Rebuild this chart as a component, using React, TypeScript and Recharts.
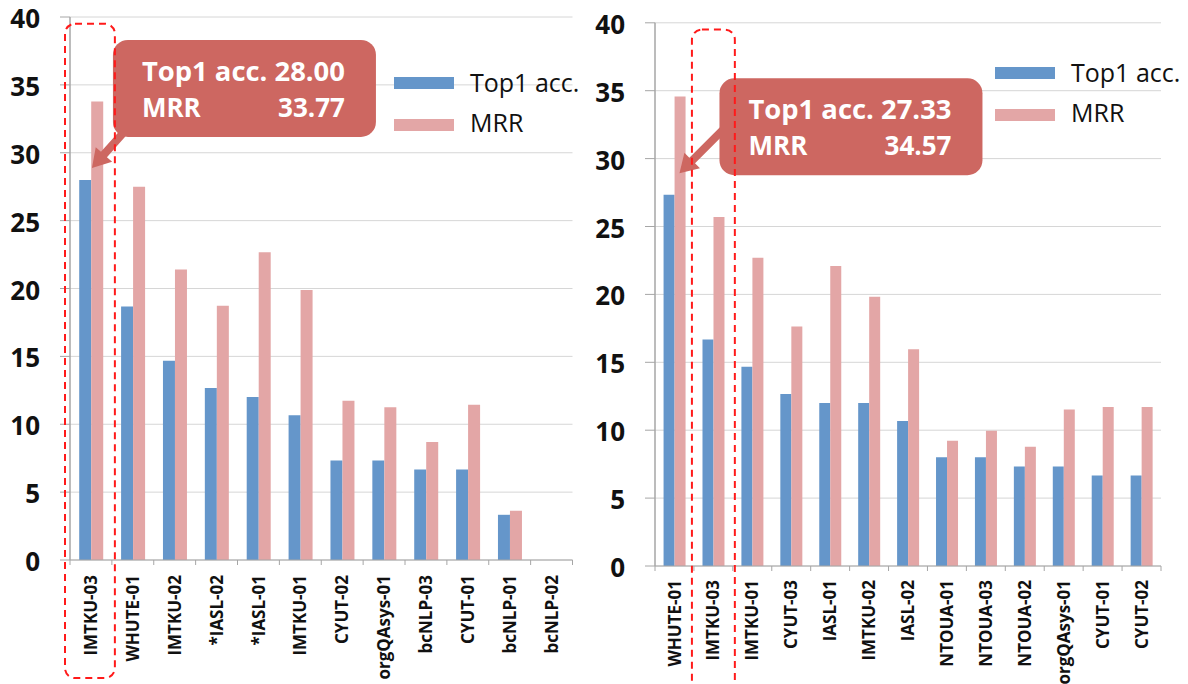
import React from 'react';
import { BarChart, Bar, XAxis, YAxis, CartesianGrid, Legend, ReferenceArea, ReferenceDot } from 'recharts';

// ---- data ----
const leftCategories = ['IMTKU-03', 'WHUTE-01', 'IMTKU-02', '*IASL-02', '*IASL-01', 'IMTKU-01', 'CYUT-02', 'orgQAsys-01', 'bcNLP-03', 'CYUT-01', 'bcNLP-01', 'bcNLP-02'];
const leftTop1 = [28.0, 18.67, 14.67, 12.67, 12.0, 10.67, 7.33, 7.33, 6.67, 6.67, 3.33, 0];
const leftMRR = [33.77, 27.5, 21.4, 18.73, 22.67, 19.89, 11.74, 11.25, 8.69, 11.44, 3.63, 0];

const rightCategories = ['WHUTE-01', 'IMTKU-03', 'IMTKU-01', 'CYUT-03', 'IASL-01', 'IMTKU-02', 'IASL-02', 'NTOUA-01', 'NTOUA-03', 'NTOUA-02', 'orgQAsys-01', 'CYUT-01', 'CYUT-02'];
const rightTop1 = [27.33, 16.67, 14.67, 12.67, 12.0, 12.0, 10.67, 8.0, 8.0, 7.33, 7.33, 6.67, 6.67];
const rightMRR = [34.57, 25.7, 22.69, 17.64, 22.1, 19.82, 15.97, 9.22, 9.96, 8.78, 11.53, 11.7, 11.7];

const yTicks = [0, 5, 10, 15, 20, 25, 30, 35, 40];
const seriesNames = ['Top1 acc.', 'MRR'];

// ---- styles ----
const BLUE = '#6596CA';
const PINK = '#E3A6A6';
const CALLOUT = '#CD6761';
const DASH = '#FF1A1A';
const AXIS = '#A6A6A6';
const GRID = '#D6D6D6';
const FONT = "'Open Sans', 'DejaVu Sans', sans-serif";

const build = (cats: string[], a: number[], b: number[]) =>
  cats.map((c, i) => ({ name: c, top1: a[i], mrr: b[i] }));

const XTick = (props: any) => {
  const { x, y, payload, index, count, gap } = props;
  const off = payload && payload.offset ? payload.offset : 0;
  return (
    <g>
      <line x1={x - off} x2={x - off} y1={y} y2={y + 5} stroke={AXIS} strokeWidth={1} />
      {index === count - 1 ? (
        <line x1={x + off} x2={x + off} y1={y} y2={y + 5} stroke={AXIS} strokeWidth={1} />
      ) : null}
      <text
        x={x}
        y={y + gap}
        dy="0.36em"
        transform={`rotate(-90 ${x} ${y + gap})`}
        textAnchor="end"
        fontFamily={FONT}
        fontWeight={700}
        fontSize={17}
        fill="#111"
      >
        {payload.value}
      </text>
    </g>
  );
};

const YTick = (props: any) => {
  const { x, y, payload } = props;
  return (
    <text x={x} y={y} dy={11} textAnchor="end" fontFamily={FONT} fontWeight={700} fontSize={26} fill="#111">
      {payload.value}
    </text>
  );
};

const LegendContent = () => (
  <svg width={200} height={80} style={{ overflow: 'visible', display: 'block' }}>
    <rect x={0} y={7} width={60} height={12} fill={BLUE} />
    <text x={76} y={22} fontFamily={FONT} fontSize={25} fill="#111">{seriesNames[0]}</text>
    <rect x={0} y={49} width={60} height={12} fill={PINK} />
    <text x={76} y={62} fontFamily={FONT} fontSize={25} fill="#111">{seriesNames[1]}</text>
  </svg>
);

const arrowPoly = (sx: number, sy: number, tx: number, ty: number) => {
  const dx = tx - sx;
  const dy = ty - sy;
  const len = Math.sqrt(dx * dx + dy * dy);
  const ux = dx / len;
  const uy = dy / len;
  const nx = -uy;
  const ny = ux;
  const w = 4;
  const hw = 11;
  const hl = 18;
  const hx = tx - ux * hl;
  const hy = ty - uy * hl;
  const pts = [
    [sx + nx * w, sy + ny * w],
    [hx + nx * w, hy + ny * w],
    [hx + nx * hw, hy + ny * hw],
    [tx, ty],
    [hx - nx * hw, hy - ny * hw],
    [hx - nx * w, hy - ny * w],
    [sx - nx * w, sy - ny * w],
  ];
  return pts.map((p) => p.join(',')).join(' ');
};

const Callout = (props: any) => {
  const { cx, cy, tip, box, start, v1, v2 } = props;
  if (cx == null || cy == null) return null;
  const tx = cx + tip[0];
  const ty = cy + tip[1];
  const bx = tx + box[0];
  const by = ty + box[1];
  const bw = 263;
  const bh = 97;
  const fs = 26;
  return (
    <g>
      <polygon points={arrowPoly(tx + start[0], ty + start[1], tx, ty)} fill={CALLOUT} />
      <rect x={bx} y={by} width={bw} height={bh} rx={15} ry={15} fill={CALLOUT} />
      <text
        x={bx + 29}
        y={by + 41}
        textLength={203}
        lengthAdjust="spacingAndGlyphs"
        fontFamily={FONT}
        fontWeight={700}
        fontSize={fs}
        fill="#fff"
      >
        {`${seriesNames[0]} ${v1}`}
      </text>
      <text fontFamily={FONT} fontWeight={700} fontSize={fs} fill="#fff">
        <tspan x={bx + 29} y={by + 77} textAnchor="start">{seriesNames[1]}</tspan>
        <tspan x={bx + 232} y={by + 77} textAnchor="end">{v2}</tspan>
      </text>
    </g>
  );
};

const DashBox = (props: any) => {
  const { x, y, width, height, padL, padR } = props;
  if (x == null) return null;
  return (
    <rect
      x={x - padL}
      y={y}
      width={width + padL + padR}
      height={height}
      rx={10}
      ry={10}
      fill="none"
      stroke={DASH}
      strokeWidth={2}
      strokeDasharray="7 5"
    />
  );
};

type PanelProps = {
  left: number;
  width: number;
  cats: string[];
  top1: number[];
  mrr: number[];
  yAxisWidth: number;
  marginTop: number;
  marginRight: number;
  xAxisHeight: number;
  labelGap: number;
  legendLeft: number;
  legendTop: number;
  calloutIndex: number;
  tip: number[];
  box: number[];
  start: number[];
  highlight: string;
  hlTop: number;
  hlBottom: number;
  padL: number;
  padR: number;
};

const Panel = (p: PanelProps) => {
  const data = build(p.cats, p.top1, p.mrr);
  const n = p.cats.length;
  return (
    <div style={{ position: 'absolute', left: p.left, top: 0 }}>
      <BarChart
        width={p.width}
        height={684}
        data={data}
        margin={{ top: p.marginTop, right: p.marginRight, left: 0, bottom: 0 }}
        barCategoryGap="22%"
        barGap={0}
      >
        <CartesianGrid vertical={false} stroke={GRID} strokeWidth={1} />
        <XAxis
          dataKey="name"
          type="category"
          height={p.xAxisHeight}
          interval={0}
          tickSize={0}
          tickMargin={0}
          tickLine={false}
          axisLine={{ stroke: AXIS, strokeWidth: 1 }}
          tick={(tp: any) => <XTick {...tp} count={n} gap={p.labelGap} />}
        />
        <YAxis
          type="number"
          domain={[0, 40]}
          ticks={yTicks}
          interval={0}
          width={p.yAxisWidth}
          tickSize={10}
          tickMargin={20}
          axisLine={{ stroke: AXIS, strokeWidth: 1.5 }}
          tickLine={{ stroke: AXIS, strokeWidth: 1 }}
          tick={(tp: any) => <YTick {...tp} />}
        />
        <Legend
          layout="vertical"
          align="center"
          verticalAlign="middle"
          content={() => <LegendContent />}
          wrapperStyle={{ left: p.legendLeft, top: p.legendTop, width: 200, height: 80 }}
        />
        <Bar dataKey="top1" name={seriesNames[0]} fill={BLUE} isAnimationActive={false} />
        <Bar dataKey="mrr" name={seriesNames[1]} fill={PINK} isAnimationActive={false} />
        <ReferenceDot
          x={p.cats[p.calloutIndex]}
          y={p.top1[p.calloutIndex]}
          r={0}
          zIndex={1500}
          shape={(sp: any) => (
            <Callout
              {...sp}
              tip={p.tip}
              box={p.box}
              start={p.start}
              v1={p.top1[p.calloutIndex].toFixed(2)}
              v2={p.mrr[p.calloutIndex].toFixed(2)}
            />
          )}
        />
        <ReferenceArea
          x1={p.highlight}
          x2={p.highlight}
          y1={p.hlBottom}
          y2={p.hlTop}
          ifOverflow="visible"
          zIndex={1600}
          shape={(sp: any) => <DashBox {...sp} padL={p.padL} padR={p.padR} />}
        />
      </BarChart>
    </div>
  );
};

export default function App() {
  return (
    <div style={{ position: 'absolute', left: 0, top: 0, width: 1188, height: 684, background: '#fff', overflow: 'hidden' }}>
      <Panel
        left={0}
        width={600}
        cats={leftCategories}
        top1={leftTop1}
        mrr={leftMRR}
        yAxisWidth={70}
        marginTop={17}
        marginRight={27.5}
        xAxisHeight={124}
        labelGap={15}
        legendLeft={394}
        legendTop={70}
        calloutIndex={0}
        tip={[1, -12]}
        box={[21, -128]}
        start={[34, -38]}
        highlight={leftCategories[0]}
        hlTop={39.5}
        hlBottom={-8.7}
        padL={5}
        padR={3}
      />
      <Panel
        left={590}
        width={598}
        cats={rightCategories}
        top1={rightTop1}
        mrr={rightMRR}
        yAxisWidth={65}
        marginTop={22.8}
        marginRight={27}
        xAxisHeight={118}
        labelGap={14}
        legendLeft={405}
        legendTop={60}
        calloutIndex={0}
        tip={[5, -21.6]}
        box={[40, -95]}
        start={[45, -45]}
        highlight={rightCategories[1]}
        hlTop={39.5}
        hlBottom={-10}
        padL={2}
        padR={2}
      />
    </div>
  );
}
